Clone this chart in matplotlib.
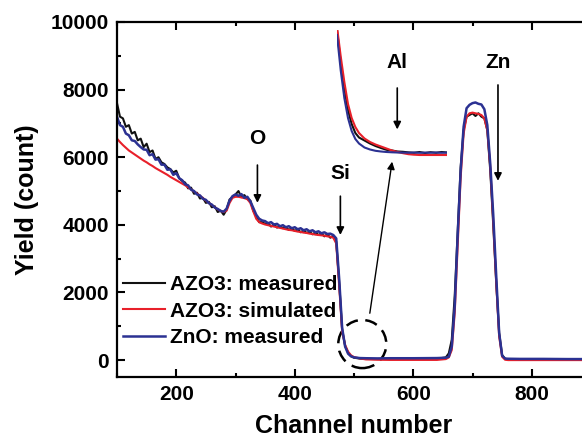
import numpy as np
import matplotlib
matplotlib.use('Agg')
import matplotlib.pyplot as plt
from matplotlib.ticker import MultipleLocator
from matplotlib.patches import Ellipse

plt.rcParams['font.family'] = ['Liberation Sans', 'DejaVu Sans']
plt.rcParams['font.weight'] = 'bold'

# channel grid: slow decay region, then Si edge, baseline and Zn peak
ch = list(range(100, 471, 5)) + [475, 480, 485, 490, 495, 500, 510, 520, 540, 560, 600,
                                  640, 655, 660, 665, 670, 675, 680, 685, 690, 695, 700,
                                  705, 710, 715, 720, 725, 730, 735, 740, 745, 750, 755,
                                  760, 780, 820, 860, 900]

azo3_meas = [7600, 7200, 7150, 6900, 6950, 6700, 6750, 6500, 6550, 6300,
             6400, 6150, 6200, 5950, 6000, 5850, 5800, 5700, 5650, 5550,
             5600, 5380, 5300, 5250, 5080, 5100, 4920, 4950, 4780, 4800,
             4650, 4680, 4520, 4550, 4380, 4420, 4300, 4450, 4750, 4820,
             4900, 5000, 4820, 4880, 4760, 4720, 4420, 4250, 4080, 4080,
             4030, 4050, 3950, 4020, 3920, 3960, 3900, 3930, 3850, 3900,
             3820, 3870, 3780, 3840, 3760, 3800, 3720, 3780, 3700, 3750,
             3660, 3720, 3620, 3680, 3500,
             2300, 900, 420, 220, 120, 70, 45, 35, 30, 30, 35,
             40, 80, 200, 600, 1900, 3800, 5700, 6800, 7200, 7250, 7300,
             7220, 7300, 7200, 7150, 6800, 5600, 4000, 2300, 800, 150, 40,
             25, 20, 20, 15, 15]

azo3_sim = [6550, 6450, 6360, 6280, 6200, 6140, 6080, 6020, 5960, 5900,
            5850, 5790, 5740, 5680, 5630, 5580, 5530, 5480, 5420, 5370,
            5320, 5270, 5220, 5170, 5110, 5050, 4990, 4930, 4860, 4790,
            4720, 4650, 4590, 4520, 4460, 4410, 4380, 4420, 4650, 4800,
            4830, 4830, 4810, 4790, 4760, 4650, 4400, 4180, 4080, 4040,
            4010, 3990, 3970, 3950, 3930, 3910, 3890, 3870, 3850, 3840,
            3820, 3800, 3790, 3770, 3760, 3740, 3730, 3710, 3700, 3690,
            3680, 3660, 3650, 3620, 3450,
            2200, 850, 450, 250, 140, 90, 50, 20, 10, 5, 5,
            5, 30, 80, 300, 1400, 3400, 5400, 6700, 7200, 7300, 7320,
            7300, 7280, 7250, 7150, 6800, 5700, 4100, 2300, 700, 100, 10,
            0, 0, 0, 0, 0]

zno_meas = [7200, 6950, 6900, 6700, 6650, 6500, 6480, 6380, 6300, 6230,
            6220, 6060, 6090, 5930, 5940, 5780, 5780, 5630, 5640, 5480,
            5530, 5380, 5320, 5200, 5170, 5040, 5000, 4900, 4870, 4770,
            4740, 4640, 4600, 4510, 4470, 4410, 4390, 4480, 4720, 4850,
            4900, 4860, 4910, 4800, 4830, 4700, 4500, 4300, 4180, 4130,
            4110, 4050, 4080, 4010, 4030, 3960, 3990, 3930, 3960, 3900,
            3930, 3870, 3900, 3840, 3870, 3810, 3840, 3780, 3810, 3750,
            3780, 3730, 3740, 3700, 3600,
            2400, 950, 400, 190, 110, 80, 60, 55, 50, 55, 55,
            60, 70, 100, 400, 1600, 3700, 5600, 6900, 7450, 7550, 7600,
            7620, 7580, 7560, 7420, 6950, 5800, 4300, 2500, 800, 130, 45,
            40, 35, 35, 30, 30]

# zoomed view of the circled region (Al edge)
ch_inset = [485, 487, 489, 491, 493, 495, 497, 500, 503, 506, 509, 512, 515,
            518, 521, 524, 527, 530, 533, 536, 539, 542, 545]
inset_meas = [1300, 980, 720, 500, 360, 270, 225, 195, 165, 140, 120, 102, 95,
              85, 82, 76, 72, 80, 70, 78, 72, 80, 75]
inset_sim = [1330, 1040, 780, 560, 420, 330, 270, 215, 180, 155, 135, 115, 95,
             80, 68, 58, 53, 50, 50, 50, 50, 50, 50]
inset_zno = [1250, 900, 620, 420, 290, 210, 165, 125, 105, 92, 85, 80, 77,
             75, 74, 73, 75, 72, 74, 73, 75, 72, 74]

c_black = '#111111'
c_red = '#e8202a'
c_blue = '#2b3192'

fig = plt.figure(figsize=(5.82, 4.44), dpi=100)
ax = fig.add_axes([117/582, 1-377/444, 474/582, 355/444])

ax.plot(ch, azo3_meas, color=c_black, lw=1.5, label='AZO3: measured')
ax.plot(ch, azo3_sim, color=c_red, lw=1.5, label='AZO3: simulated')
ax.plot(ch, zno_meas, color=c_blue, lw=1.8, label='ZnO: measured')

ax.set_xlim(100, 900)
ax.set_ylim(-500, 10000)
ax.xaxis.set_major_locator(MultipleLocator(200))
ax.xaxis.set_minor_locator(MultipleLocator(100))
ax.yaxis.set_major_locator(MultipleLocator(2000))
ax.yaxis.set_minor_locator(MultipleLocator(1000))
ax.tick_params(which='both', direction='in', top=True, right=True, width=1.5,
               labelsize=15, pad=6)
ax.tick_params(which='major', length=6)
ax.tick_params(which='minor', length=3)
for s in ax.spines.values():
    s.set_linewidth(1.6)
for lab in ax.get_xticklabels() + ax.get_yticklabels():
    lab.set_fontweight('bold')

ax.set_xlabel('Channel number', fontsize=18, fontweight='bold', labelpad=7)
ax.set_ylabel('Yield (count)', fontsize=18, fontweight='bold', labelpad=8)

leg = ax.legend(loc='upper left', bbox_to_anchor=(-0.005, 0.31), frameon=False,
                prop={'size': 15, 'weight': 'bold'}, handlelength=2.0,
                handletextpad=0.25, labelspacing=0.36, borderaxespad=0)

# element markers
arr = dict(arrowstyle='-|>', color='k', lw=1.2, mutation_scale=11)
marks = [('O', 337, 6560, 5850, 4570),
         ('Si', 477, 5520, 4930, 3620),
         ('Al', 573, 8810, 8130, 6740),
         ('Zn', 743, 8810, 8220, 5220)]
for name, x, ytxt, y0, y1 in marks:
    ax.text(x, ytxt, name, ha='center', va='center', fontsize=15, fontweight='bold')
    ax.annotate('', xy=(x, y1), xytext=(x, y0), arrowprops=arr)

circ = Ellipse((514, 475), 81, 1424, fill=False, edgecolor='k', lw=1.8,
               linestyle=(0, (5, 3)))
ax.add_patch(circ)
ax.annotate('', xy=(565, 5950), xytext=(526, 1305),
            arrowprops=dict(arrowstyle='-|>', color='k', lw=1.0, mutation_scale=11))

# inset without frame
axin = ax.inset_axes([(337-117)/474, (377-160)/355, 110/474, 130/355])
axin.plot(ch_inset, inset_meas, color=c_black, lw=1.5)
axin.plot(ch_inset, inset_sim, color=c_red, lw=1.5)
axin.plot(ch_inset, inset_zno, color=c_blue, lw=1.5)
axin.set_xlim(485, 545)
axin.set_ylim(0, 1300)
axin.axis('off')

fig.savefig('out.png', dpi=100)
